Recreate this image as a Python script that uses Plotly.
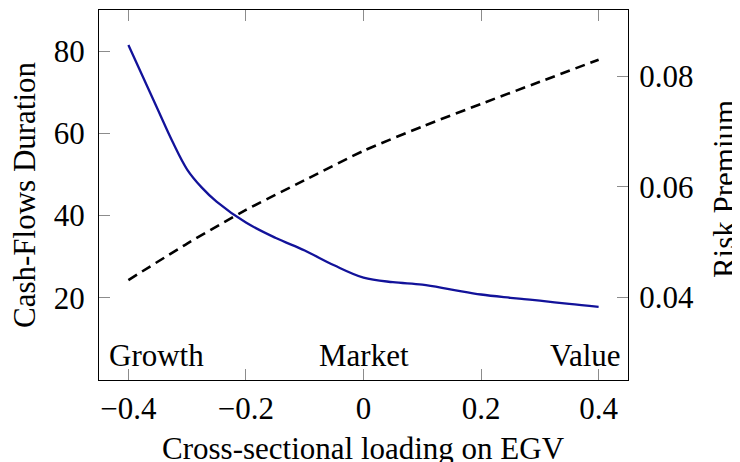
import plotly.graph_objects as go

# Data
loading = [-0.40, -0.35, -0.325, -0.30, -0.275, -0.25, -0.20, -0.15, -0.10, -0.05, 0.00,
           0.05, 0.10, 0.15, 0.20, 0.25, 0.30, 0.35, 0.40]
duration = [81.5, 65.8, 58.0, 51.2, 46.8, 43.4, 38.3, 34.6, 31.5, 27.9, 24.9,
            23.8, 23.2, 22.0, 20.8, 20.0, 19.3, 18.5, 17.8]

loading_rp = [-0.4, -0.3, -0.2, -0.1, 0.0, 0.1, 0.2, 0.3, 0.4]
risk_premium = [0.0431, 0.0497, 0.0558, 0.0612, 0.0665, 0.0709, 0.0750, 0.0790, 0.0830]

x_ticks = [-0.4, -0.2, 0, 0.2, 0.4]
x_tick_labels = ["\u22120.4", "\u22120.2", "0", "0.2", "0.4"]
y_ticks = [20, 40, 60, 80]
y2_ticks = [0.04, 0.06, 0.08]
y2_tick_labels = ["0.04", "0.06", "0.08"]

labels = ["Growth", "Market", "Value"]

FONT = "Liberation Serif"
FS = 31
TICKC = "#8c8c8c"

fig = go.Figure()
fig.add_trace(go.Scatter(x=loading, y=duration, mode="lines",
                         line=dict(color="#12129a", width=2.3, shape="spline", smoothing=1.0),
                         showlegend=False, yaxis="y"))
fig.add_trace(go.Scatter(x=loading_rp, y=risk_premium, mode="lines",
                         line=dict(color="black", width=2.6, dash="10px,6px", shape="spline", smoothing=0.5),
                         showlegend=False, yaxis="y2"))

# The page body adds an 8px offset, so the figure is sized to the visible area
fig.update_layout(
    width=732, height=454,
    margin=dict(l=91, r=112, t=2, b=82),
    paper_bgcolor="white", plot_bgcolor="white",
    font=dict(family=FONT, size=FS, color="black"),
    xaxis=dict(range=[-0.45, 0.45], tickvals=x_ticks, ticktext=x_tick_labels,
               ticks="inside", ticklen=11, tickcolor=TICKC, tickwidth=1,
               showline=True, linecolor="black", linewidth=1.3, mirror="ticks",
               showgrid=False, zeroline=False, ticklabelstandoff=1),
    yaxis=dict(range=[0, 90], tickvals=y_ticks,
               ticks="inside", ticklen=11, tickcolor=TICKC, tickwidth=1,
               showline=True, linecolor="black", linewidth=1.3, mirror=False,
               showgrid=False, zeroline=False, ticklabelstandoff=7),
    yaxis2=dict(range=[0.025, 0.092], tickvals=y2_ticks, ticktext=y2_tick_labels,
                overlaying="y", side="right",
                ticks="inside", ticklen=11, tickcolor=TICKC, tickwidth=1,
                showline=True, linecolor="black", linewidth=1.3,
                showgrid=False, zeroline=False, ticklabelstandoff=4),
)

annos = [
    dict(text=labels[0], x=-0.436, xanchor="left"),
    dict(text=labels[1], x=0.0, xanchor="center"),
    dict(text=labels[2], x=0.441, xanchor="right"),
]
for a in annos:
    fig.add_annotation(x=a["x"], y=6.0, xref="x", yref="y", text=a["text"],
                       xanchor=a["xanchor"], yanchor="middle", showarrow=False,
                       font=dict(family=FONT, size=FS, color="black"))

# Axis titles
fig.add_annotation(text="Cross-sectional loading on EGV", xref="paper", yref="paper",
                   x=0.5, y=0, yshift=-68, xanchor="center", yanchor="middle",
                   showarrow=False, font=dict(family=FONT, size=FS, color="black"))
fig.add_annotation(text="Cash-Flows Duration", xref="paper", yref="paper",
                   x=0, xshift=-75, y=0.5, textangle=-90, xanchor="center", yanchor="middle",
                   showarrow=False, font=dict(family=FONT, size=FS, color="black"))
fig.add_annotation(text="Risk Premium", xref="paper", yref="paper",
                   x=1, xshift=96, y=0.516, textangle=-90, xanchor="center", yanchor="middle",
                   showarrow=False, font=dict(family=FONT, size=FS, color="black"))

fig.write_html("out.html")
